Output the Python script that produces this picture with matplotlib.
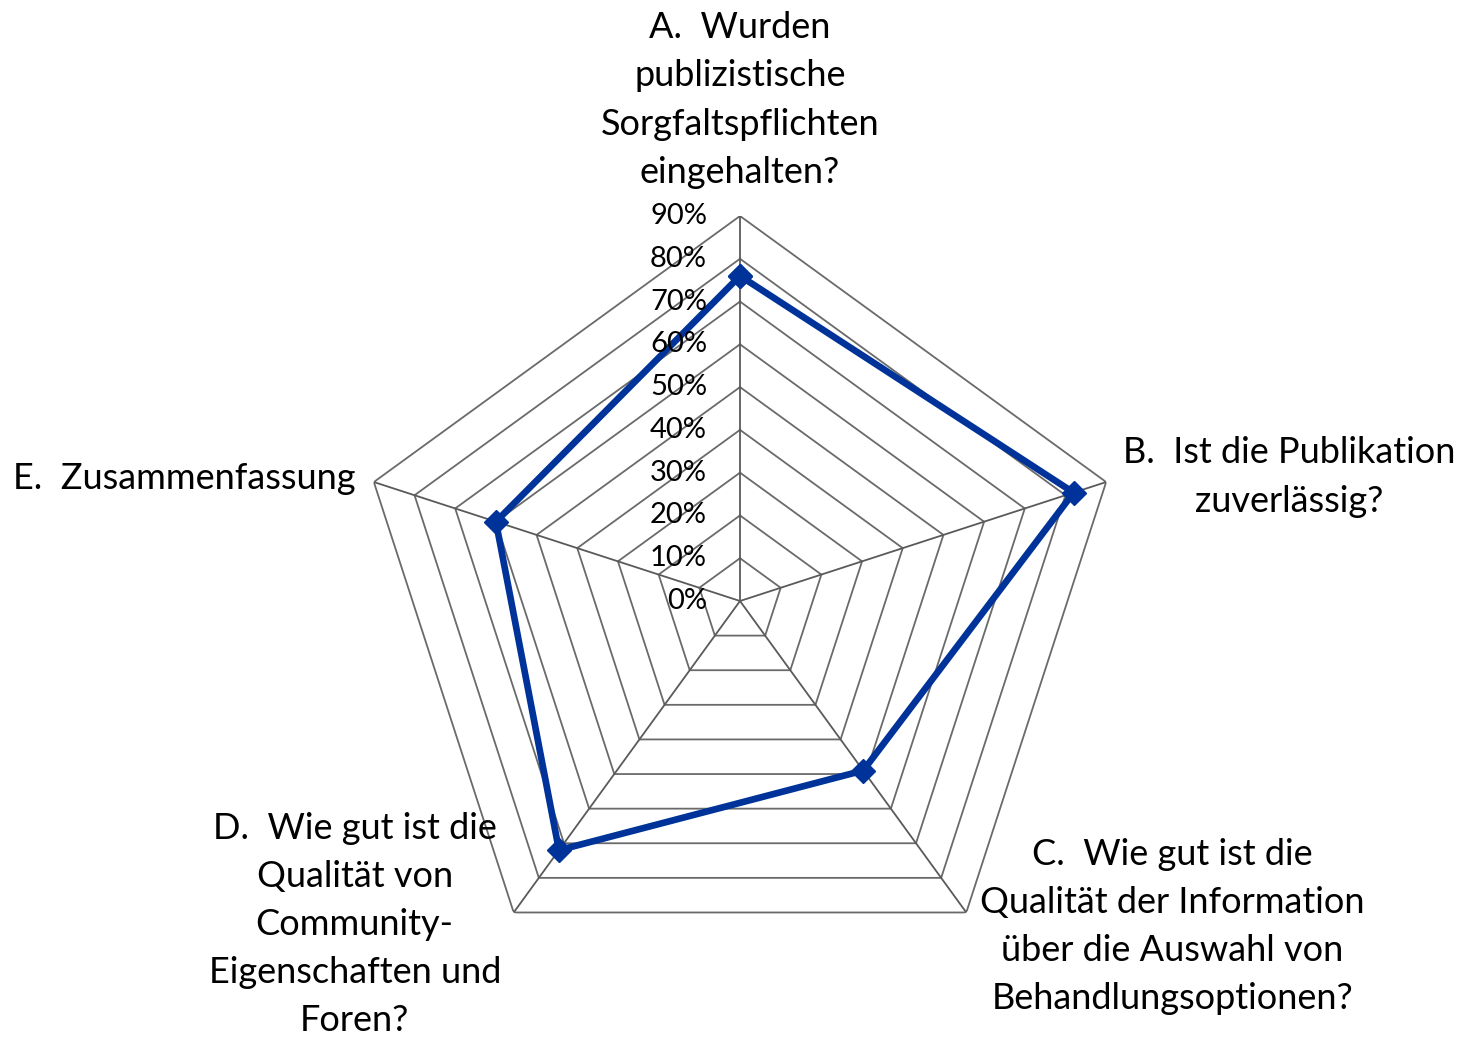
import numpy as np
import matplotlib; matplotlib.use('agg')
import matplotlib.pyplot as plt

plt.rcParams['font.family'] = ['Lato', 'DejaVu Sans']

# data
categories = ["A.  Wurden\npublizistische\nSorgfaltspflichten\neingehalten?",
              "B.  Ist die Publikation\nzuverlässig?",
              "C.  Wie gut ist die\nQualität der Information\nüber die Auswahl von\nBehandlungsoptionen?",
              "D.  Wie gut ist die\nQualität von\nCommunity-\nEigenschaften und\nForen?",
              "E.  Zusammenfassung"]
values = [76, 82, 49, 72, 60]
ticks = [0, 10, 20, 30, 40, 50, 60, 70, 80, 90]
tick_labels = ["%d%%" % t for t in ticks]

# label offsets from the outer vertex (pixels)
label_offsets = [(0, 116), (183, 5), (206, -14), (-159, -12), (-190, 4)]

W, H = 1466, 1038
fig = plt.figure(figsize=(W / 100, H / 100), dpi=100)
cx, cy, R = 740, 1038 - 601, 385
ax = fig.add_axes([(cx - R) / W, (cy - R) / H, 2 * R / W, 2 * R / H], projection='polar')
ax.set_theta_offset(np.pi / 2)
ax.set_theta_direction(-1)
ax.set_ylim(0, 90)
ax.grid(False)
ax.spines['polar'].set_visible(False)
ax.set_xticks([])
ax.set_yticks([])

n = len(categories)
theta = np.arange(n) * 2 * np.pi / n
theta_c = np.append(theta, theta[0])

# pentagon grid
for t in ticks[1:]:
    ax.plot(theta_c, [t] * (n + 1), color='#6a6a6a', lw=1.3, zorder=1)
for th in theta:
    ax.plot([th, th], [0, 90], color='#5a5a5a', lw=1.3, zorder=1)

# series
vals_c = values + [values[0]]
ax.plot(theta_c, vals_c, color='#003399', lw=4.8, marker='D', markersize=12,
        zorder=3, clip_on=False)

# radial tick labels
for t, lab in zip(ticks, tick_labels):
    ax.annotate(lab, xy=(0, t), xytext=(-33, 0), textcoords='offset pixels',
                ha='right', va='center', fontsize=21, color='black',
                annotation_clip=False)

# category labels
for th, lab, off in zip(theta, categories, label_offsets):
    ax.annotate(lab, xy=(th, 90), xytext=off, textcoords='offset pixels',
                ha='center', va='center', multialignment='center',
                fontsize=26, linespacing=1.56, color='black',
                annotation_clip=False)

fig.savefig("out.png", dpi=100)
